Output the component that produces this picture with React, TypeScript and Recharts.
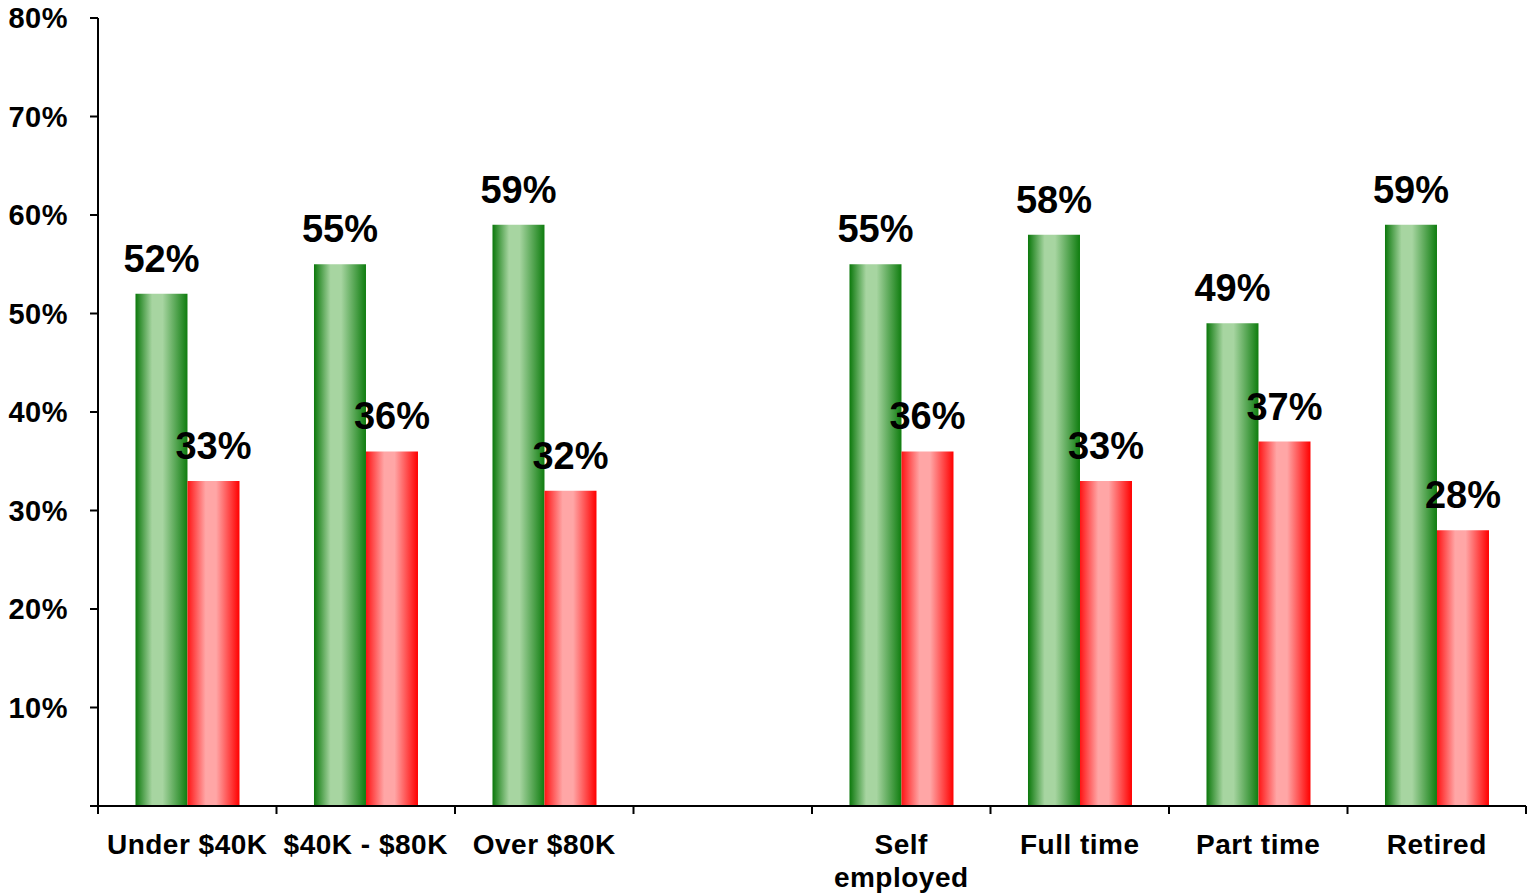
import { Bar, BarChart, LabelList, XAxis, YAxis } from 'recharts';

const categories = [
  'Under $40K',
  '$40K - $80K',
  'Over $80K',
  '',
  'Self\nemployed',
  'Full time',
  'Part time',
  'Retired',
];
const greenValues = [52, 55, 59, null, 55, 58, 49, 59];
const redValues = [33, 36, 32, null, 36, 33, 37, 28];
const yTicks = [0, 10, 20, 30, 40, 50, 60, 70, 80];

const data = categories.map((name, i) => ({
  name,
  green: greenValues[i],
  red: redValues[i],
}));

const CHART_W = 1530;
const CHART_H = 895;
const MARGIN = { top: 18, right: 4, left: 0, bottom: 0 };
const Y_AXIS_W = 98;
const X_AXIS_H = 89;
const FONT = '"Liberation Sans", Arial, sans-serif';

const plotW = CHART_W - MARGIN.left - MARGIN.right - Y_AXIS_W;
const band = plotW / categories.length;

const XTick = (props: any) => {
  const { x, y, payload, index } = props;
  const lines = String(payload.value).split('\n');
  const isLast = index === categories.length - 1;
  return (
    <g>
      <line x1={x - band / 2} x2={x - band / 2} y1={y - 8} y2={y} stroke='#000' strokeWidth={2} />
      {isLast && (
        <line x1={x + band / 2} x2={x + band / 2} y1={y - 8} y2={y} stroke='#000' strokeWidth={2} />
      )}
      <text
        x={x}
        y={y + 40}
        textAnchor='middle'
        fontFamily={FONT}
        fontWeight='bold'
        fontSize={28}
        letterSpacing={0.5}
        fill='#000'
      >
        {lines.map((line, i) => (
          <tspan key={i} x={x} dy={i === 0 ? 0 : 33}>
            {line}
          </tspan>
        ))}
      </text>
    </g>
  );
};

const fmt = (v: any) => (v == null ? '' : `${v}%`);

export default function App() {
  return (
    <div style={{ position: 'absolute', left: 0, top: 0, background: '#fff' }}>
      <BarChart
        width={CHART_W}
        height={CHART_H}
        data={data}
        margin={MARGIN}
        barCategoryGap='21%'
        barGap={0}
      >
        <defs>
          <linearGradient id='greenGrad' x1='0' y1='0' x2='1' y2='0'>
            <stop offset='0%' stopColor='#0b780b' />
            <stop offset='32%' stopColor='#a7d5a1' />
            <stop offset='52%' stopColor='#a7d5a1' />
            <stop offset='100%' stopColor='#0f7d0f' />
          </linearGradient>
          <linearGradient id='redGrad' x1='0' y1='0' x2='1' y2='0'>
            <stop offset='0%' stopColor='#ff1414' />
            <stop offset='35%' stopColor='#ffa6a6' />
            <stop offset='55%' stopColor='#ffa6a6' />
            <stop offset='100%' stopColor='#ff0000' />
          </linearGradient>
        </defs>
        <XAxis
          dataKey='name'
          height={X_AXIS_H}
          interval={0}
          tickSize={8}
          tickMargin={0}
          tickLine={false}
          axisLine={{ stroke: '#000', strokeWidth: 2 }}
          tick={<XTick />}
        />
        <YAxis
          width={Y_AXIS_W}
          domain={[0, 80]}
          ticks={yTicks}
          interval={0}
          tickSize={8}
          tickMargin={22}
          tickFormatter={(v) => (v === 0 ? '' : `${v}%`)}
          axisLine={{ stroke: '#000', strokeWidth: 2 }}
          tickLine={{ stroke: '#000', strokeWidth: 2 }}
          tick={{ fill: '#000', fontSize: 29, fontWeight: 'bold', fontFamily: FONT, letterSpacing: 0.5 }}
        />
        <Bar dataKey='green' fill='url(#greenGrad)' isAnimationActive={false}>
          <LabelList
            dataKey='green'
            position='top'
            offset={22}
            formatter={fmt}
            fill='#000'
            fontSize={38}
            fontWeight='bold'
            fontFamily={FONT}
          />
        </Bar>
        <Bar dataKey='red' fill='url(#redGrad)' isAnimationActive={false}>
          <LabelList
            dataKey='red'
            position='top'
            offset={22}
            formatter={fmt}
            fill='#000'
            fontSize={38}
            fontWeight='bold'
            fontFamily={FONT}
          />
        </Bar>
      </BarChart>
    </div>
  );
}
